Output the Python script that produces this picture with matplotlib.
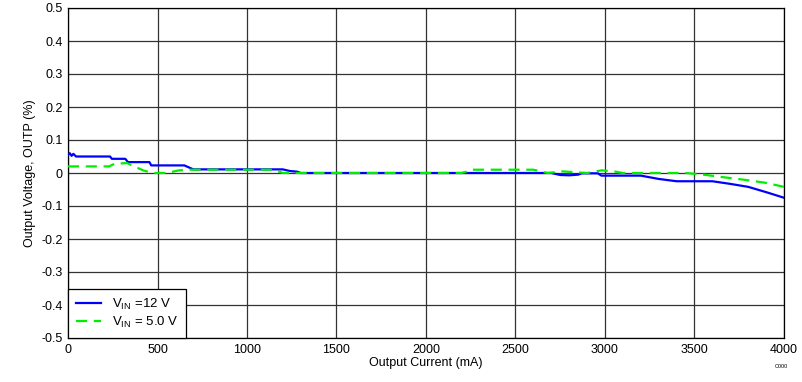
import matplotlib
matplotlib.use('Agg')
import matplotlib.pyplot as plt

# ── data ────────────────────────────────────────────────────────
i_12v = [0, 10, 20, 30, 45, 235, 245, 320, 335, 455, 465, 650, 700, 1200, 1240,
         1280, 1300, 2700, 2750, 2800, 2850, 2870, 2960, 2980, 3200, 3300, 3400,
         3600, 3700, 3800, 3900, 4000]
v_12v = [0.055, 0.06, 0.052, 0.058, 0.05, 0.05, 0.043, 0.043, 0.033, 0.033, 0.023,
         0.023, 0.011, 0.011, 0.006, 0.004, 0.0, 0.0, -0.006, -0.007, -0.005, -0.001,
         -0.001, -0.008, -0.008, -0.018, -0.025, -0.025, -0.033, -0.042, -0.058, -0.075]

i_5v = [0, 230, 260, 330, 370, 420, 470, 550, 620, 680, 1150, 1200, 2200, 2260,
        2600, 2680, 2760, 2900, 2980, 3050, 3100, 3450, 3550, 3650, 3800, 3900, 4000]
v_5v = [0.02, 0.02, 0.028, 0.03, 0.02, 0.008, 0.0, 0.0, 0.008, 0.01, 0.01, 0.0,
        0.0, 0.01, 0.01, 0.0, 0.005, 0.0, 0.008, 0.005, 0.0, 0.0, -0.005, -0.012,
        -0.022, -0.03, -0.042]

x_ticks = list(range(0, 4001, 500))
y_ticks = [-0.5, -0.4, -0.3, -0.2, -0.1, 0, 0.1, 0.2, 0.3, 0.4, 0.5]
y_labels = ['-0.5', '-0.4', '-0.3', '-0.2', '-0.1', '0', '0.1', '0.2', '0.3', '0.4', '0.5']

plt.rcParams['font.family'] = ['Liberation Sans', 'DejaVu Sans']

fig = plt.figure(figsize=(8.03, 3.82), dpi=100)
ax = fig.add_axes([68/803, 1 - 338/382, (784-68)/803, (338-8)/382])

ax.plot(i_12v, v_12v, color='#0000FF', lw=1.6, label=r'V$_{\mathregular{IN}}$ =12 V', zorder=3)
ax.plot(i_5v, v_5v, color='#00EE00', lw=1.6, dashes=(5, 3), label=r'V$_{\mathregular{IN}}$ = 5.0 V', zorder=3)

ax.set_xlim(0, 4000)
ax.set_ylim(-0.5, 0.5)
ax.set_xticks(x_ticks)
ax.set_yticks(y_ticks)
ax.set_yticklabels(y_labels)
ax.tick_params(labelsize=9, length=0, pad=4)
ax.grid(True, color='#333333', lw=0.9)
for s in ax.spines.values():
    s.set_color('black')
    s.set_linewidth(0.9)

ax.set_xlabel('Output Current (mA)', fontsize=9, labelpad=1)
ax.set_ylabel('Output Voltage, OUTP (%)', fontsize=9, labelpad=4)

leg = ax.legend(loc='lower left', fontsize=9.5, frameon=True, fancybox=False,
                borderaxespad=0, handlelength=1.9, handletextpad=0.8,
                borderpad=0.6, labelspacing=0.25)
leg.get_frame().set_edgecolor('black')
leg.get_frame().set_linewidth(0.9)
leg.get_frame().set_alpha(1)

fig.text(788/803, 1 - 367/382, 'C000', fontsize=4, ha='right', va='center')

fig.savefig('out.png', dpi=100, facecolor='white')
